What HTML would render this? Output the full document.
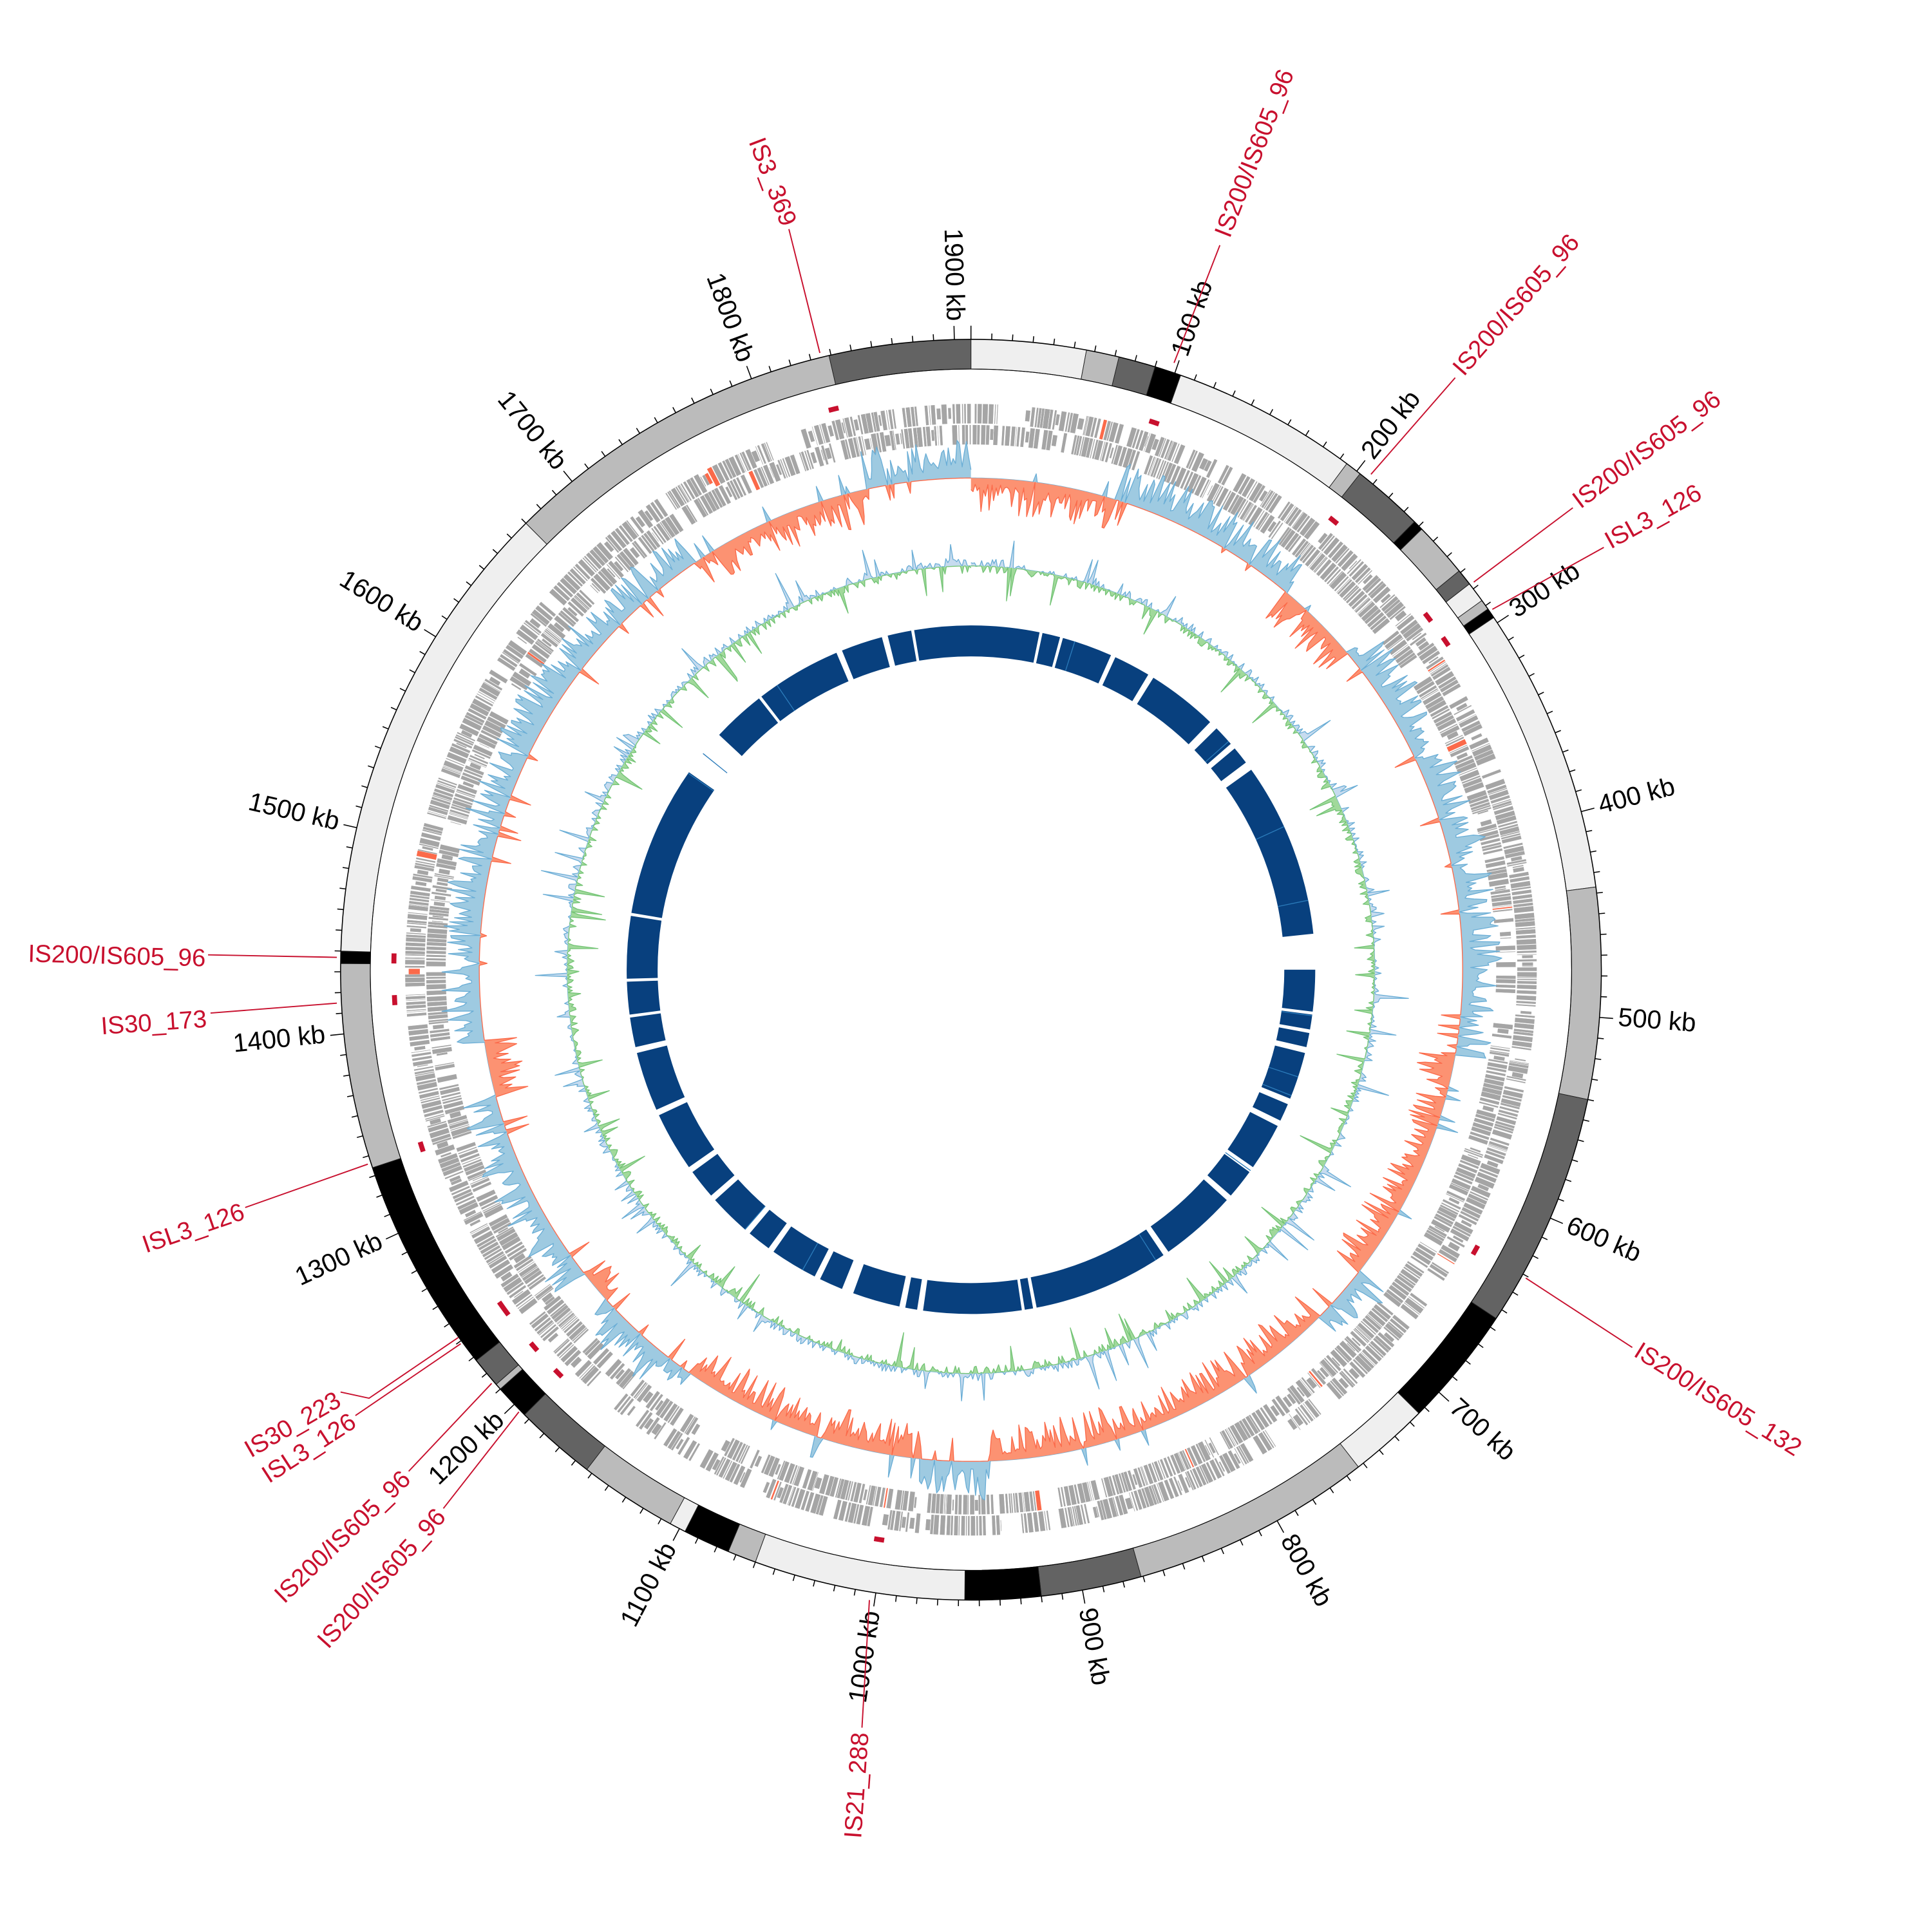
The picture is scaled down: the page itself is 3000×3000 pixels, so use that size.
<!DOCTYPE html>
<html><head><meta charset="utf-8"><style>
html,body{margin:0;padding:0;background:#fff;}
svg{display:block;}
.tk{font-family:"Liberation Sans Narrow","Liberation Sans",sans-serif;font-size:21px;fill:#000;dominant-baseline:middle;}
.is{font-family:"Liberation Sans Narrow","Liberation Sans",sans-serif;font-size:20px;fill:#c8102e;dominant-baseline:middle;}
</style></head><body>
<svg id="s" xmlns="http://www.w3.org/2000/svg" width="3000" height="3000" viewBox="0 0 1560 1560">
<rect width="1560" height="1560" fill="#fff"/>
<g id="g"></g>
<g id="labels">
<text class="tk">100 kb</text><text class="tk">200 kb</text><text class="tk">300 kb</text><text class="tk">400 kb</text><text class="tk">500 kb</text><text class="tk">600 kb</text><text class="tk">700 kb</text><text class="tk">800 kb</text><text class="tk">900 kb</text><text class="tk">1000 kb</text><text class="tk">1100 kb</text><text class="tk">1200 kb</text><text class="tk">1300 kb</text><text class="tk">1400 kb</text><text class="tk">1500 kb</text><text class="tk">1600 kb</text><text class="tk">1700 kb</text><text class="tk">1800 kb</text><text class="tk">1900 kb</text>
</g>
<g stroke="#c8102e" stroke-width="1" fill="none">
<polyline points="948,293 985,198"/>
<polyline points="1107,383 1175,305"/>
<polyline points="1190,470 1270,410"/>
<polyline points="1205,492 1295,442"/>
<polyline points="1232,1032 1318,1088"/>
<polyline points="702,1292 696,1395"/>
<polyline points="662,285 637,185"/>
<polyline points="272,773 168,771"/>
<polyline points="272,810 170,818"/>
<polyline points="297,940 198,975"/>
<polyline points="370,1080 298,1129 275,1124"/>
<polyline points="372,1085 287,1143"/>
<polyline points="397,1117 330,1188"/>
<polyline points="419,1140 358,1218"/>
</g>
<g>
<text class="is" transform="translate(988,191) rotate(-68.7)">IS200/IS605_96</text>
<text class="is" transform="translate(1178,301) rotate(-48.9)">IS200/IS605_96</text>
<text class="is" transform="translate(1273,407) rotate(-36.9)">IS200/IS605_96</text>
<text class="is" transform="translate(1298,439) rotate(-29)">ISL3_126</text>
<text class="is" transform="translate(1321,1090) rotate(32)">IS200/IS605_132</text>
<text class="is" text-anchor="end" transform="translate(696,1399) rotate(-86)">IS21_288</text>
<text class="is" text-anchor="end" transform="translate(636,182) rotate(69)">IS3_369</text>
<text class="is" text-anchor="end" transform="translate(166,775) rotate(1.5)">IS200/IS605_96</text>
<text class="is" text-anchor="end" transform="translate(167,824) rotate(-4)">IS30_173</text>
<text class="is" text-anchor="end" transform="translate(197,979) rotate(-19)">ISL3_126</text>
<text class="is" text-anchor="end" transform="translate(274,1130) rotate(-30)">IS30_223</text>
<text class="is" text-anchor="end" transform="translate(286,1147) rotate(-33)">ISL3_126</text>
<text class="is" text-anchor="end" transform="translate(329,1192) rotate(-44)">IS200/IS605_96</text>
<text class="is" text-anchor="end" transform="translate(357,1222) rotate(-48)">IS200/IS605_96</text>
</g>
</svg>
<script>
(function(){
var cx=784,cy=783,T=1908,NS="http://www.w3.org/2000/svg",G=document.getElementById('g');
function P(r,a){var t=a*Math.PI/180;return [cx+r*Math.sin(t),cy-r*Math.cos(t)];}
function f(p){return p[0].toFixed(2)+' '+p[1].toFixed(2);}
function band(r0,r1,a0,a1){var p1=P(r1,a0),p2=P(r1,a1),p3=P(r0,a1),p4=P(r0,a0),l=(a1-a0)>180?1:0;
return 'M'+f(p1)+'A'+r1+' '+r1+' 0 '+l+' 1 '+f(p2)+'L'+f(p3)+'A'+r0+' '+r0+' 0 '+l+' 0 '+f(p4)+'Z';}
function el(n,at){var e=document.createElementNS(NS,n);for(var k in at)e.setAttribute(k,at[k]);G.appendChild(e);return e;}
function deg(kb){return kb*360/T;}
var s=12345;function R(){s|=0;s=s+0x6D2B79F5|0;var t=Math.imul(s^s>>>15,1|s);t=t+Math.imul(t^t>>>7,61|t)^t;return((t^t>>>14)>>>0)/4294967296;}
var L='#efefef',M='#bbbbbb',D='#636363',K='#000';
var segs=[[0,56,L],[56,72,M],[72,90,D],[90,103,K],[103,194,L],[194,202,M],[202,237,D],[237,242,K],[242,269,M],[269,277,D],[277,287,L],[287,292,M],[292,297,K],[297,437,L],[437,540,M],[540,655,D],[655,714,K],[714,753,L],[753,871,M],[871,920,D],[920,957,K],[957,1060,L],[1060,1074,M],[1074,1097,K],[1097,1105,L],[1105,1153,M],[1153,1193,D],[1193,1210,K],[1210,1213,M],[1213,1228,D],[1228,1334,K],[1334,1434,M],[1434,1440,K],[1440,1670,L],[1670,1839,M],[1839,1908,D]];
segs.forEach(function(x){el('path',{d:band(485,509,deg(x[0]),deg(x[1])),fill:x[2],stroke:'#222','stroke-width':0.5});});
el('circle',{cx:cx,cy:cy,r:509,fill:'none',stroke:'#000','stroke-width':0.8});
el('circle',{cx:cx,cy:cy,r:485,fill:'none',stroke:'#000','stroke-width':0.6});
var td='';for(var k=0;k<T;k+=10){var a=deg(k),maj=(k%100==0),p1=P(509,a),p2=P(maj?520:514,a);td+='M'+f(p1)+'L'+f(p2);}
el('path',{d:td,stroke:'#000','stroke-width':0.8,fill:'none'});
var tks=document.querySelectorAll('.tk');
for(var i=0;i<tks.length;i++){var t=tks[i],kb=parseInt(t.textContent),a=deg(kb),p=P(524,a),rot,an;
if(a<180){rot=a-90;an='start';}else{rot=a-270;an='end';}
t.setAttribute('text-anchor',an);t.setAttribute('transform','translate('+p[0].toFixed(1)+','+p[1].toFixed(1)+') rotate('+rot.toFixed(2)+')');}
var starts=[[948,293],[1107,383],[1190,470],[1205,492],[1232,1032],[702,1292],[662,285],[272,773],[272,810],[297,940],[370,1080],[372,1085],[397,1117],[419,1140]];
var md='';starts.forEach(function(p){var a=Math.atan2(p[0]-cx,-(p[1]-cy))*180/Math.PI;if(a<0)a+=360;md+=band(464,468,a-0.5,a+0.5);});
el('path',{d:md,fill:'#c8102e'});
var gd='',rd='';
[[441,457],[424,440]].forEach(function(rr,ri){var kb=R()*2;while(kb<T){var len=0.4+R()*2.6;var r0=rr[0],r1=rr[1];
var e=Math.min(kb+len,T);var sh=R()<0.12;var x=band(sh?r0+4:r0,sh?r1-3:r1,deg(kb),deg(e));if(R()<0.008)rd+=x;else gd+=x;
kb=e+R()*0.8;if(R()<0.08)kb+=R()*6;if(R()<0.01)kb+=8+R()*10;}});
el('path',{d:gd,fill:'#a5a5a5',stroke:'#fff','stroke-width':0.25});
el('path',{d:rd,fill:'#fb6a4a'});
var sk=[[0,17,-1],[17,40,1],[40,50,-1],[50,65,1],[65,100,1],[100,128,-1],[128,135,1],[135,178,-1],[178,186,1],[186,215,-1],[215,228,1],[228,232,-1],[232,255,1],[255,262,-1],[262,326,1],[326,348,-1],[348,360,1]];
function sgn(a){for(var i=0;i<sk.length;i++)if(a>=sk[i][0]&&a<sk[i][1])return sk[i][2];return 1;}
function track(base,N,valf,pc,ps,nc,ns){var vals=[];for(var i=0;i<=N;i++)vals.push(valf(i*360/N));
function mk(sign,fill,st){var pts=[];for(var i=0;i<=N;i++){var a=i*360/N,v=vals[i]*sign;v=v>0?v:0;pts.push(f(P(base+sign*v,a)));}
var line='M'+pts.join('L');var bk=[];for(var i=N;i>=0;i--)bk.push(f(P(base,i*360/N)));var d=line+'L'+bk.join('L')+'Z';
el('path',{d:d,fill:fill,stroke:'none'});
el('path',{d:line,fill:'none',stroke:st,'stroke-width':0.7,'stroke-linejoin':'round'});}
mk(1,pc,ps);mk(-1,nc,ns);}
track(397,1440,function(a){var sg=sgn(a);var m=(sg>0?6:5)+(sg>0?26:24)*Math.pow(R(),1.6);if(R()<0.04){sg=-sg;m=4+R()*16;}return sg*m;},'#9ecae1','#6baed6','#fc9272','#fb6a4a');
track(326,1440,function(a){var v=(R()-0.5)*12;if(R()<0.09)v+=(R()<0.5?-1:1)*(6+R()*22);return v;},'#c6dbef','#6baed6','#a1d99b','#74c476');
var gaps=[[11.5,12],[15,15.5],[24,24.8],[31,32],[44,45.5],[49,50],[53,54.5],[84,90],[97,97.5],[100,100.6],[103,104],[112,113],[116,117],[125,126],[131,132],[145,146],[169,169.6],[171,171.5],[188,189],[191,192],[200,202],[206,207],[215,216],[220,221],[228,229],[234,235],[245,246],[256,257],[262,262.5],[268,268.5],[279,279.5],[305,313],[322,322.5],[337,338],[345,346],[350,350.5]];
var bd='',st=0;gaps.forEach(function(g){bd+=band(253,278,st,g[0]);st=g[1];});bd+=band(253,278,st,360);
el('path',{d:bd,fill:'#08407e'});
var ld='';for(var i=0;i<14;i++){var a=R()*360;ld+=band(253,278,a,a+0.15);}
el('path',{d:ld,fill:'#2b7bba'});
})();
</script>
</body></html>
